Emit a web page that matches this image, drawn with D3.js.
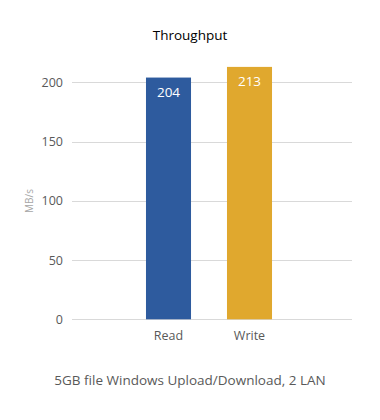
<!DOCTYPE html>
<html><head><meta charset="utf-8">
<script src="https://cdn.jsdelivr.net/npm/d3@7"></script>
<style>body{margin:0;background:#fff}</style>
</head><body>
<script>
const categories = ["Read", "Write"];
const values = [204, 213];
const colors = ["#2E5B9E", "#E0A82E"];
const yTicks = [0, 50, 100, 150, 200];

const W = 380, H = 420;
const font = "'Open Sans', 'Noto Sans', sans-serif";
const svg = d3.select("body").append("svg").attr("width", W).attr("height", H);

const y = d3.scaleLinear().domain([0, 200]).range([319.3, 82.3]);
const x = d3.scaleBand().domain(categories).range([128, 290]);
const gridX0 = 72, gridX1 = 352;

// grid
svg.append("g").selectAll("line").data(yTicks).join("line")
  .attr("x1", gridX0).attr("x2", gridX1)
  .attr("y1", d => Math.round(y(d)) + 0.5).attr("y2", d => Math.round(y(d)) + 0.5)
  .attr("stroke", "#d9d9d9").attr("stroke-width", 1);

// y axis labels
const yAxis = d3.axisLeft(y).tickValues(yTicks).tickSize(0).tickPadding(0);
const ga = svg.append("g").attr("transform", `translate(63,0)`).call(yAxis);
ga.select(".domain").remove();
ga.selectAll("text").attr("font-family", font).attr("font-size", 12.5).attr("fill", "#595959");

// bars
const bw = x.bandwidth() * 0.556;
svg.append("g").selectAll("rect").data(categories).join("rect")
  .attr("x", (d) => x(d) + (x.bandwidth() - bw) / 2)
  .attr("width", bw)
  .attr("y", (d, i) => y(values[i]))
  .attr("height", (d, i) => y(0) - y(values[i]))
  .attr("fill", (d, i) => colors[i]);

// value labels
svg.append("g").selectAll("text").data(categories).join("text")
  .attr("x", d => x(d) + x.bandwidth() / 2)
  .attr("y", (d, i) => y(values[i]) + 19)
  .attr("text-anchor", "middle")
  .attr("font-family", font).attr("font-size", 13.5).attr("fill", "#fff")
  .text((d, i) => values[i]);

// x axis labels
svg.append("g").selectAll("text").data(categories).join("text")
  .attr("x", d => x(d) + x.bandwidth() / 2)
  .attr("y", 340)
  .attr("text-anchor", "middle")
  .attr("font-family", font).attr("font-size", 12.5).attr("fill", "#595959")
  .text(d => d);

// title
svg.append("text").attr("x", 190).attr("y", 40).attr("text-anchor", "middle")
  .attr("font-family", font).attr("font-size", 13.5).attr("fill", "#000")
  .text("Throughput");

// y title
svg.append("text").attr("transform", "translate(33,201) rotate(-90)")
  .attr("text-anchor", "middle")
  .attr("font-family", font).attr("font-size", 10).attr("fill", "#a6a6a6")
  .text("MB/s");

// footer
svg.append("text").attr("x", 190).attr("y", 385).attr("text-anchor", "middle")
  .attr("font-family", font).attr("font-size", 13.5).attr("fill", "#595959")
  .text("5GB file Windows Upload/Download, 2 LAN");
</script>
</body></html>
